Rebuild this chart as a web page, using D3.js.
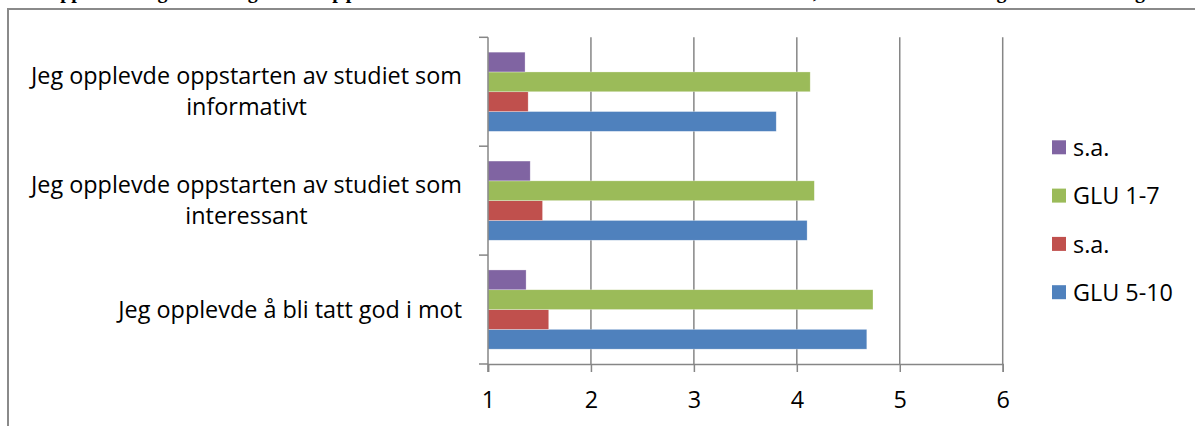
<!DOCTYPE html>
<html><head><meta charset="utf-8">
<script src="https://cdn.jsdelivr.net/npm/d3@7"></script>
<style>body{margin:0;background:#fff;overflow:hidden}</style>
</head><body><svg id="c" width="1195" height="426"></svg>
<script>
// ---- data ----
const categories = ["god", "interessant", "informativt"];
const categoryLines = [
  ["Jeg opplevde å bli tatt god i mot"],
  ["Jeg opplevde oppstarten av studiet som", "interessant"],
  ["Jeg opplevde oppstarten av studiet som", "informativt"]
];
const seriesNames = ["GLU 5-10", "s.a.", "GLU 1-7", "s.a."];
const glu510 = [4.68, 4.10, 3.80];
const sa1 = [1.59, 1.53, 1.39];
const glu17 = [4.74, 4.17, 4.13];
const sa2 = [1.37, 1.41, 1.36];
const seriesValues = [glu510, sa1, glu17, sa2];
const xTicks = [1, 2, 3, 4, 5, 6];
const colors = ["#4F81BD", "#C0504D", "#9BBB59", "#8064A2"];
// title (cut off by the page top in the reference; only descenders visible)
const titleParts = ["Oppstarten og", "mottagelse", "oppleves bra av studentene ved de to studiene,", "flest er", "enig", "i at den var", "god"];
const titleX = [44.7, 197.8, 320, 830, 971, 1012, 1135];

// ---- layout ----
const svg = d3.select("#c");
const FONT = "'Open Sans', sans-serif";
const FS = 23.4;
const plot = {left: 488, right: 1002.7, top: 37.3, bottom: 364};

const title = svg.append("text").attr("y", -2.5)
  .attr("font-family", "'Liberation Serif', serif").attr("font-weight", "bold")
  .attr("font-size", 20).attr("fill", "#000");
titleParts.forEach((t, i) => {
  const ts = title.append("tspan").attr("x", titleX[i]).text(t);
  if (i === 2) ts.attr("textLength", 498).attr("lengthAdjust", "spacing");
});

// chart border
svg.append("rect").attr("x", 8).attr("y", 9).attr("width", 1200).attr("height", 430)
  .attr("fill", "none").attr("stroke", "#8a8a8a").attr("stroke-width", 2);

const x = d3.scaleLinear().domain([1, 6]).range([plot.left, plot.right]);
const y0 = d3.scaleBand().domain([2, 1, 0]).range([plot.top, plot.bottom]).padding(0);
const y1 = d3.scaleBand().domain([3, 2, 1, 0]).range([0, y0.bandwidth()]).paddingInner(0).paddingOuter(0.75);

// gridlines
svg.append("g").selectAll("line").data(xTicks.slice(1)).join("line")
  .attr("x1", d => x(d)).attr("x2", d => x(d))
  .attr("y1", plot.top).attr("y2", plot.bottom)
  .attr("stroke", "#868686").attr("stroke-width", 1.5);

// bars
const catIdx = d3.range(categories.length);
seriesValues.forEach((vals, s) => {
  svg.append("g").selectAll("rect").data(catIdx).join("rect")
    .attr("x", x(1))
    .attr("y", c => y0(c) + y1(s))
    .attr("width", c => x(vals[c]) - x(1))
    .attr("height", y1.bandwidth())
    .attr("fill", colors[s])
    .attr("stroke", "#ffffff").attr("stroke-opacity", 0.5).attr("stroke-width", 0.6);
});

// x axis
const xAxis = d3.axisBottom(x).tickValues(xTicks).tickSize(8).tickFormat(d3.format("d"));
const gx = svg.append("g").attr("transform", `translate(0,${plot.bottom})`).call(xAxis);
gx.select(".domain").attr("stroke", "#868686").attr("stroke-width", 1.5);
gx.selectAll(".tick line").attr("stroke", "#868686").attr("stroke-width", 1.5);
gx.selectAll(".tick text").attr("font-family", FONT).attr("font-size", FS).attr("fill", "#000")
  .attr("y", 44).attr("dy", 0);

// y axis line and boundary ticks
const bounds = [plot.top, ...catIdx.map(c => y0(c) + y0.bandwidth())];
svg.append("line").attr("x1", plot.left).attr("x2", plot.left)
  .attr("y1", plot.top).attr("y2", plot.bottom + 8)
  .attr("stroke", "#868686").attr("stroke-width", 1.5);
svg.append("g").selectAll("line").data(bounds).join("line")
  .attr("x1", plot.left - 9).attr("x2", plot.left)
  .attr("y1", d => d).attr("y2", d => d)
  .attr("stroke", "#868686").attr("stroke-width", 1.5);

// category labels: block right-aligned, lines centered
const labelRight = 462, lineH = 31;
catIdx.forEach(c => {
  const lines = categoryLines[c];
  const cy = y0(c) + y0.bandwidth() / 2;
  const g = svg.append("g");
  const texts = g.selectAll("text").data(lines).join("text")
    .attr("font-family", FONT).attr("font-size", FS).attr("fill", "#000")
    .attr("text-anchor", "middle")
    .attr("y", (d, i) => cy + 8 + (i - (lines.length - 1) / 2) * lineH)
    .text(d => d);
  let maxW = 0;
  texts.each(function() { maxW = Math.max(maxW, this.getComputedTextLength()); });
  texts.attr("x", labelRight - maxW / 2);
});

// legend
const legendOrder = [3, 2, 1, 0];
const lg = svg.append("g");
legendOrder.forEach((s, i) => {
  const cy = 147.3 + i * 48.3;
  lg.append("rect").attr("x", 1052).attr("y", cy - 7).attr("width", 14).attr("height", 14).attr("fill", colors[s]);
  lg.append("text").attr("x", 1073).attr("y", cy + 8.6)
    .attr("font-family", FONT).attr("font-size", FS).attr("fill", "#000").text(seriesNames[s]);
});
</script>
</body></html>
